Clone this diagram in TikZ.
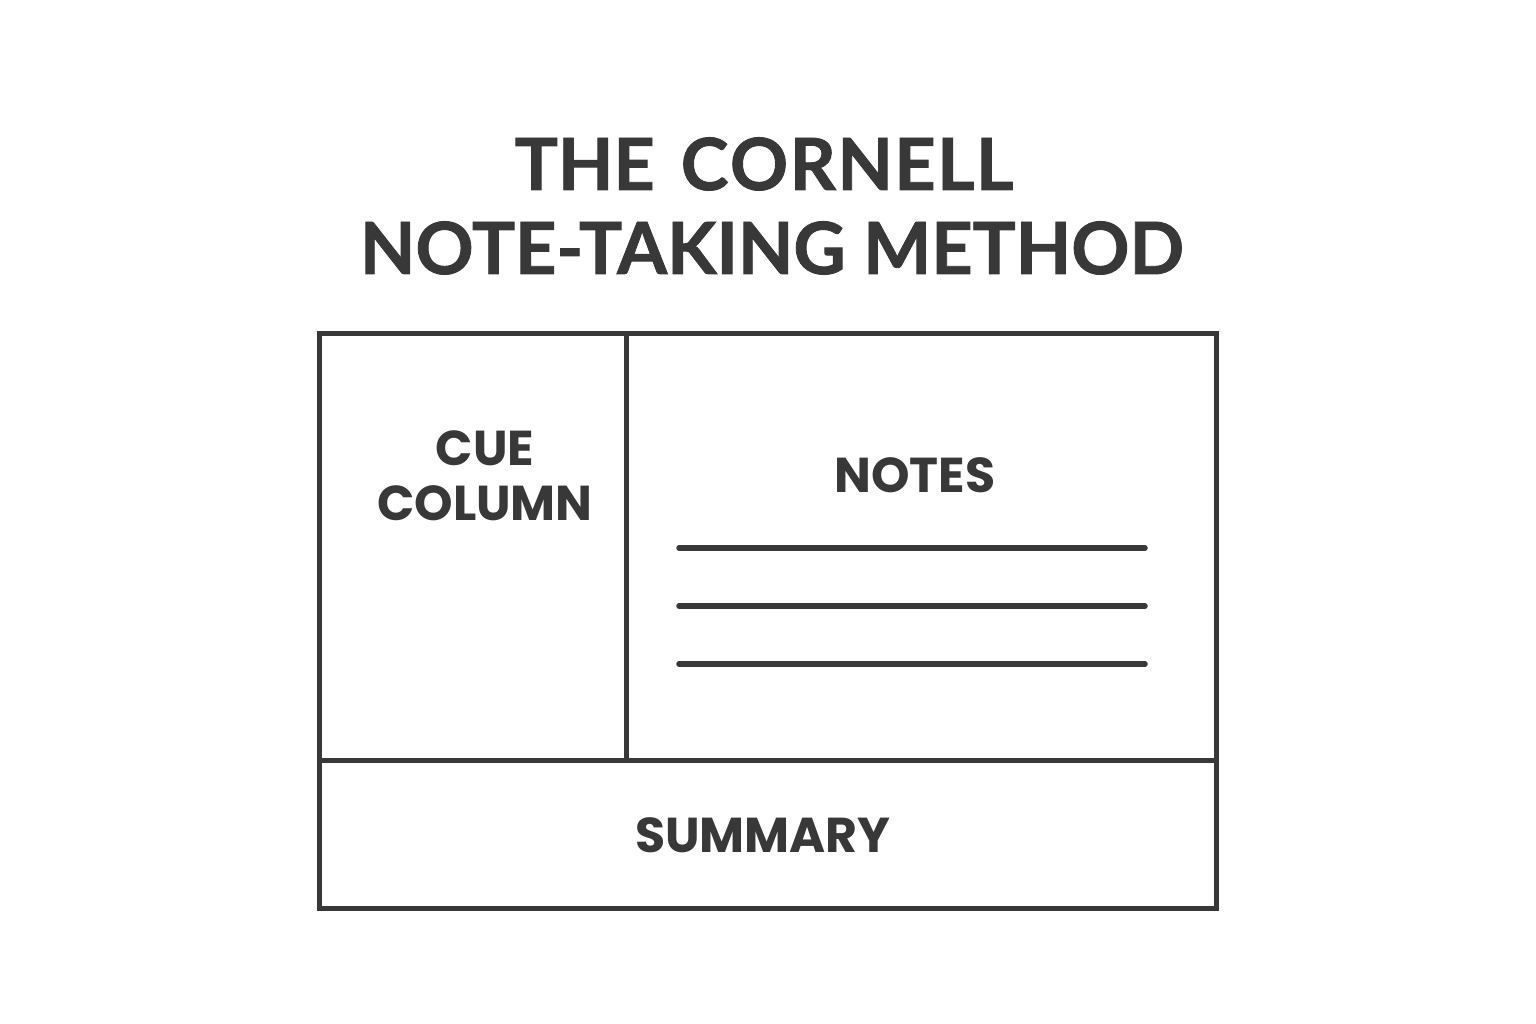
\documentclass[tikz,border=0pt]{standalone}
\usepackage{fontspec}
\setmainfont{Poppins}
\newfontfamily\titlefont{Lato}[BoldFeatures={FakeBold=1.2}]
\definecolor{ink}{HTML}{383838}
\begin{document}
\begin{tikzpicture}[x=1pt,y=-1pt,
  frame/.style={draw=ink,line width=5pt},
  rule/.style={draw=ink,line width=5.5pt,line cap=round},
  title/.style={text=ink,anchor=base,inner sep=0pt,font=\titlefont\bfseries\fontsize{72}{72}\selectfont},
  lab/.style={text=ink,anchor=base,inner sep=0pt,font=\fontseries{sb}\fontsize{49}{49}\selectfont}]
\useasboundingbox (0,0) rectangle (1536,1024);
\node[title] (t1) at (764,190) {THE\hspace{0.12em} C\kern0.02em O\kern0.02em R\kern0.02em N\kern0.02em E\kern0.02em L\kern0.02em L};
\node[title] (t2) at (772,274) {NOTE-TAKING METHOD};
\coordinate (tl) at (319,333);
\coordinate (br) at (1216,908);
\coordinate (dtop) at (626,333);
\coordinate (dbot) at (626,760);
\coordinate (hl) at (319,760);
\coordinate (hr) at (1216,760);
\draw[frame] (tl) rectangle (br);
\draw[frame] (dtop) -- (dbot);
\draw[frame] (hl) -- (hr);
\node[lab] (cue) at (485,465) {CUE};
\node[lab] (col) at (485,520) {COLUMN};
\node[lab] (notes) at (915,492) {NOTES};
\node[lab] (sum) at (763,852) {SUMMARY};
\foreach \y/\n in {548/a,606/b,664/c}{
  \coordinate (l\n) at (679,\y);
  \coordinate (r\n) at (1145,\y);
  \draw[rule] (l\n) -- (r\n);
}
\end{tikzpicture}
\end{document}
